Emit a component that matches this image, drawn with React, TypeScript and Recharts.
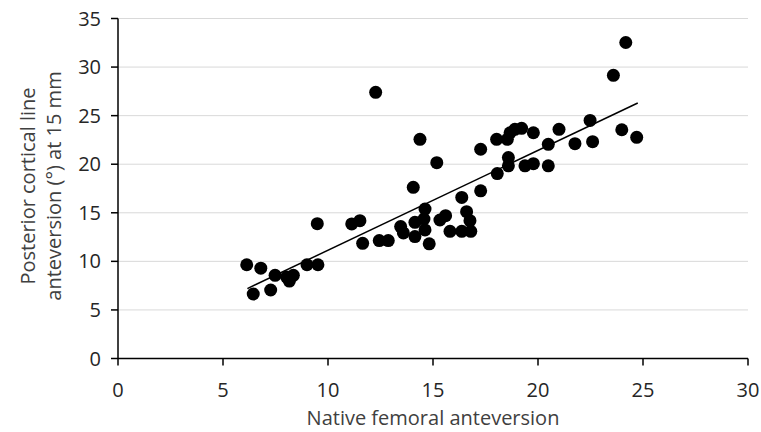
import { ScatterChart, Scatter, XAxis, YAxis, CartesianGrid, ReferenceLine, Label } from 'recharts';

// native femoral anteversion (x) and posterior cortical line anteversion at 15 mm (y)
const nativeAnteversion = [
  6.13, 6.44, 6.8, 7.27, 7.48, 8.03, 8.16, 8.35, 9.0, 9.52, 9.49, 11.13, 11.52, 11.65, 12.27,
  12.44, 12.87, 13.46, 13.59, 14.06, 14.14, 14.14, 14.38, 14.57, 14.62, 14.62, 14.82, 15.18,
  15.33, 15.6, 15.81, 16.37, 16.37, 16.6, 16.76, 16.8, 17.27, 17.27, 18.03, 18.06, 18.54,
  18.59, 18.59, 18.67, 18.9, 19.22, 19.38, 19.78, 19.78, 20.49, 20.49, 21.0, 21.76, 22.48,
  22.6, 23.59, 23.99, 24.18, 24.7,
];
const posteriorCortical = [
  9.65, 6.64, 9.3, 7.05, 8.56, 8.38, 7.97, 8.56, 9.65, 9.65, 13.88, 13.85, 14.19, 11.86, 27.4,
  12.14, 12.14, 13.58, 12.93, 17.62, 14.02, 12.55, 22.56, 14.36, 15.39, 13.24, 11.8, 20.16,
  14.26, 14.7, 13.09, 16.58, 13.09, 15.11, 14.19, 13.09, 21.54, 17.26, 22.56, 19.04, 22.56,
  20.68, 19.83, 23.24, 23.59, 23.69, 19.83, 20.06, 23.24, 22.05, 19.83, 23.59, 22.11, 24.51,
  22.32, 29.15, 23.55, 32.53, 22.77,
];
const xTicks = [0, 5, 10, 15, 20, 25, 30];
const yTicks = [0, 5, 10, 15, 20, 25, 30, 35];
const trendX = [6.16, 24.75];
const trendY = [7.2, 26.3];

const points = nativeAnteversion.map((x, i) => ({ x, y: posteriorCortical[i] }));

const font = '"Open Sans", sans-serif';
const tickColor = '#262626';
const titleColor = '#404040';

function YTitle() {
  return (
    <g fontFamily={font} fontSize={20} fill={titleColor} textAnchor="middle">
      <text transform="translate(35,186) rotate(-90)">Posterior cortical line</text>
      <text transform="translate(61,186) rotate(-90)">anteversion (°) at 15 mm</text>
    </g>
  );
}

export default function App() {
  return (
    <div style={{ position: 'absolute', left: 0, top: 0, width: 761, height: 432, background: '#fff' }}>
      <ScatterChart width={761} height={432} margin={{ top: 18.5, right: 13, left: 0, bottom: 0 }}>
        <CartesianGrid vertical={false} stroke="#d9d9d9" strokeWidth={1} />
        <XAxis
          type="number"
          dataKey="x"
          domain={[0, 30]}
          ticks={xTicks}
          height={73.5}
          axisLine={{ stroke: '#000', strokeWidth: 1.5 }}
          tickLine={{ stroke: '#000', strokeWidth: 1.5 }}
          tickSize={7}
          tickMargin={17}
          tick={{ fill: tickColor, fontSize: 20, fontFamily: font }}
        >
          <Label
            value="Native femoral anteversion"
            position="insideBottom"
            offset={7}
            style={{ fill: titleColor, fontSize: 20, fontFamily: font }}
          />
        </XAxis>
        <YAxis
          type="number"
          dataKey="y"
          domain={[0, 35]}
          ticks={yTicks}
          width={118}
          axisLine={{ stroke: '#000', strokeWidth: 1.5 }}
          tickLine={{ stroke: '#000', strokeWidth: 1.5 }}
          tickSize={7}
          tickMargin={10}
          tick={{ fill: tickColor, fontSize: 20, fontFamily: font }}
        >
          <Label content={<YTitle />} />
        </YAxis>
        <ReferenceLine
          segment={[
            { x: trendX[0], y: trendY[0] },
            { x: trendX[1], y: trendY[1] },
          ]}
          stroke="#000"
          strokeWidth={1.5}
        />
        <Scatter
          data={points}
          fill="#000"
          isAnimationActive={false}
          shape={(p: any) => <circle cx={p.cx} cy={p.cy} r={6.5} fill="#000" />}
        />
      </ScatterChart>
    </div>
  );
}
